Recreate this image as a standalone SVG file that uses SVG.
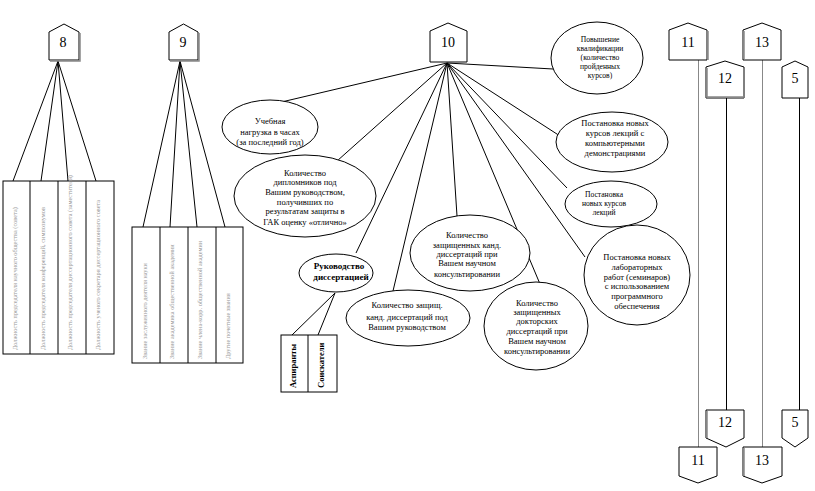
<svg xmlns="http://www.w3.org/2000/svg" width="815" height="491" viewBox="0 0 815 491">
<style>
.sh{fill:#fff;stroke:#000;stroke-width:1}
.sd{fill:none;stroke:#888;stroke-width:1.5}
.num{font-family:"Liberation Serif",serif;font-size:14px;fill:#000;text-anchor:middle}
.el{fill:#fff;stroke:#000;stroke-width:1}
.t{font-family:"Liberation Serif",serif;font-size:8.5px;fill:#000;text-anchor:middle}
.ts{font-family:"Liberation Serif",serif;font-size:7.6px;fill:#000;text-anchor:middle}
.tb{font-family:"Liberation Serif",serif;font-size:9px;font-weight:bold;fill:#000;text-anchor:middle}
.v{font-family:"Liberation Serif",serif;font-size:6.3px;fill:#999}
.vb{font-family:"Liberation Serif",serif;font-size:8.5px;fill:#000;font-weight:bold}
.c{stroke:#000;stroke-width:1;fill:none}
.cg{stroke:#888;stroke-width:1;fill:none}
</style>
<rect width="815" height="491" fill="#fff"/>
<g id="connectors">
<path class="c" d="M58,61 L13,181 M58,61 L41,181 M58,61 L68,181 M58,61 L96,181"/>
<path class="c" d="M180,61 L143,227 M180,61 L170,227 M180,61 L197,227 M180,61 L225,227"/>
<path class="c" d="M447,63 L273,104 M447,63 L337,161 M447,63 L356,253 M447,63 L393,291 M447,63 L457,216 M447,63 L540,284 M447,63 L585,257 M447,63 L567,188 M447,63 L560,136 M447,63 L553,69"/>
<path class="c" d="M335,293 L292,335 M335,293 L318,335"/>
<path class="cg" d="M698.5,60 L698.5,447 M762.5,60 L762.5,447"/>
<path class="c" d="M726.5,98 L726.5,410 M799.5,98 L799.5,410"/>
</g>
<g id="n8">
<path class="sh" d="M49,32 L64,24 L79,32 L79,60 L49,60 Z"/>
<path class="sd" d="M80,33 L80,61 L50,61"/>
<text class="num" x="63" y="47">8</text>
</g>
<g id="n9">
<path class="sh" d="M169,32 L183.5,24 L198,32 L198,60 L169,60 Z"/>
<path class="sd" d="M199,33 L199,61 L170,61"/>
<text class="num" x="183" y="47">9</text>
</g>
<g id="n10">
<path class="sh" d="M430,31 L448,23 L467,31 L467,62 L430,62 Z"/>
<text class="num" x="448" y="47">10</text>
</g>
<g id="n11top">
<path class="sh" d="M669,30 L688,23 L707,30 L707,60 L669,60 Z"/>
<path class="sd" d="M708,31 L708,60"/>
<text class="num" x="688" y="47">11</text>
</g>
<g id="n12top">
<path class="sh" d="M706,67 L725,61 L744,67 L744,98 L706,98 Z"/>
<path class="sd" d="M707,68 L707,97 L744,97"/>
<text class="num" x="725" y="83">12</text>
</g>
<g id="n13top">
<path class="sh" d="M743,30 L762,23 L781,30 L781,60 L743,60 Z"/>
<path class="sd" d="M744,31 L744,59"/>
<text class="num" x="762" y="47">13</text>
</g>
<g id="n5top">
<path class="sh" d="M782,67 L795,61 L808,67 L808,98 L782,98 Z"/>
<text class="num" x="795" y="83">5</text>
</g>
<g id="n12bot">
<path class="sh" d="M706,410 L744,410 L744,438 L726,447 L706,438 Z"/>
<path class="sd" d="M707,411 L707,438"/>
<text class="num" x="725" y="427">12</text>
</g>
<g id="n5bot">
<path class="sh" d="M782,410 L808,410 L808,438 L795,447 L782,438 Z"/>
<text class="num" x="795" y="427">5</text>
</g>
<g id="n11bot">
<path class="sh" d="M679,447 L717,447 L717,476 L698,483 L679,476 Z"/>
<text class="num" x="698" y="465">11</text>
</g>
<g id="n13bot">
<path class="sh" d="M743,447 L782,447 L782,476 L762,483 L743,476 Z"/>
<path class="sd" d="M744,448 L744,476"/>
<text class="num" x="762" y="465">13</text>
</g>
<g id="box8">
<rect class="sh" x="3" y="181" width="111" height="173"/>
<path class="c" d="M30,181 V354 M58,181 V354 M86,181 V354"/>
<text class="v" transform="translate(17,350) rotate(-90)">Должность председателя научного общества (совета)</text>
<text class="v" transform="translate(45,350) rotate(-90)">Должность председателя конференций, симпозиумов</text>
<text class="v" transform="translate(72,350) rotate(-90)">Должность председателя диссертационного совета (заместителя)</text>
<text class="v" transform="translate(100,350) rotate(-90)">Должность ученого секретаря диссертационного совета</text>
</g>
<g id="box9">
<rect class="sh" x="132" y="227" width="111" height="136"/>
<path class="c" d="M160,227 V363 M188,227 V363 M216,227 V363"/>
<text class="v" transform="translate(147,359) rotate(-90)">Звание заслуженного деятеля науки</text>
<text class="v" transform="translate(174,359) rotate(-90)">Звание академика общественной академии</text>
<text class="v" transform="translate(202,359) rotate(-90)">Звание члена-корр. общественной академии</text>
<text class="v" transform="translate(230,359) rotate(-90)">Другие почетные звания</text>
</g>
<g id="e-nagruzka">
<ellipse class="el" cx="270" cy="127" rx="48" ry="27"/>
<text class="t" x="270" y="124">Учебная</text>
<text class="t" x="270" y="135">нагрузка в часах</text>
<text class="t" x="270" y="145">(за последний год)</text>
</g>
<g id="e-diplom">
<ellipse class="el" cx="305" cy="196" rx="71" ry="41"/>
<text class="t" x="305" y="176">Количество</text>
<text class="t" x="305" y="185">дипломников под</text>
<text class="t" x="305" y="195">Вашим руководством,</text>
<text class="t" x="305" y="205">получивших по</text>
<text class="t" x="305" y="214">результатам защиты в</text>
<text class="t" x="305" y="225">ГАК оценку «отлично»</text>
</g>
<g id="e-rukovod">
<ellipse class="el" cx="336" cy="273" rx="37" ry="19"/>
<text class="tb" x="339" y="269">Руководство</text>
<text class="tb" x="341" y="280">диссертацией</text>
</g>
<g id="box-asp">
<rect class="sh" x="281" y="335" width="56" height="57"/>
<path class="c" d="M308,335 V392"/>
<text class="vb" transform="translate(296,388) rotate(-90)">Аспиранты</text>
<text class="vb" transform="translate(324,388) rotate(-90)">Соискатели</text>
</g>
<g id="e-zashch-kand">
<ellipse class="el" cx="408" cy="318" rx="62" ry="28"/>
<text class="t" x="407" y="308">Количество защищ.</text>
<text class="t" x="407" y="320">канд. диссертаций под</text>
<text class="t" x="407" y="330">Вашим руководством</text>
</g>
<g id="e-kand-pri">
<ellipse class="el" cx="470" cy="253" rx="60" ry="38"/>
<text class="t" x="467" y="238">Количество</text>
<text class="t" x="467" y="248">защищенных канд.</text>
<text class="t" x="467" y="257">диссертаций при</text>
<text class="t" x="467" y="266">Вашем научном</text>
<text class="t" x="467" y="277">консультировании</text>
</g>
<g id="e-doktor">
<ellipse class="el" cx="536" cy="326" rx="52" ry="44"/>
<text class="t" x="537" y="306">Количество</text>
<text class="t" x="537" y="315">защищенных</text>
<text class="t" x="537" y="324">докторских</text>
<text class="t" x="537" y="334">диссертаций при</text>
<text class="t" x="537" y="344">Вашем научном</text>
<text class="t" x="537" y="354">консультировании</text>
</g>
<g id="e-povysh">
<ellipse class="el" cx="597" cy="58" rx="46" ry="36"/>
<text class="ts" x="600" y="42">Повышение</text>
<text class="ts" x="600" y="51">квалификации</text>
<text class="ts" x="600" y="60">(количество</text>
<text class="ts" x="600" y="69">пройденных</text>
<text class="ts" x="600" y="78">курсов)</text>
</g>
<g id="e-komp">
<ellipse class="el" cx="612" cy="142" rx="56" ry="30"/>
<text class="t" x="615" y="126">Постановка новых</text>
<text class="t" x="615" y="136">курсов лекций с</text>
<text class="t" x="615" y="146">компьютерными</text>
<text class="t" x="615" y="156">демонстрациями</text>
</g>
<g id="e-lekcii">
<ellipse class="el" cx="611" cy="204" rx="46" ry="23"/>
<text class="ts" x="604" y="197">Постановка</text>
<text class="ts" x="604" y="206">новых курсов</text>
<text class="ts" x="604" y="215">лекций</text>
</g>
<g id="e-lab">
<ellipse class="el" cx="637" cy="275" rx="53" ry="50"/>
<text class="t" x="637" y="260">Постановка новых</text>
<text class="t" x="637" y="270">лабораторных</text>
<text class="t" x="637" y="280">работ (семинаров)</text>
<text class="t" x="637" y="289">с использованием</text>
<text class="t" x="637" y="299">программного</text>
<text class="t" x="637" y="309">обеспечения</text>
</g>
</svg>
